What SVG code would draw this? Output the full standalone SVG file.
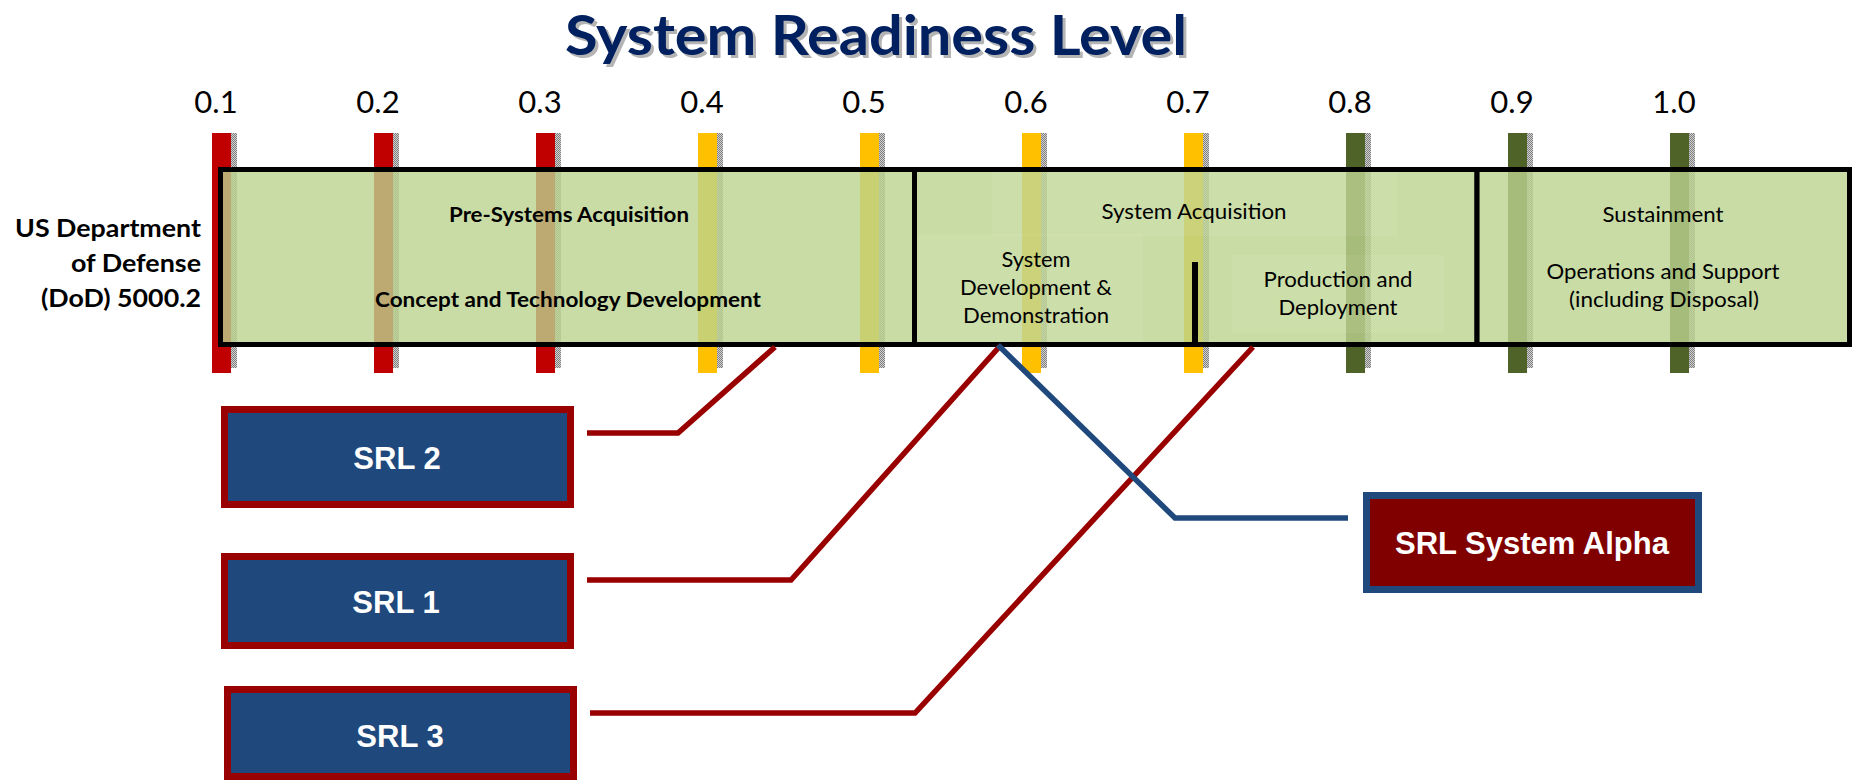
<svg xmlns="http://www.w3.org/2000/svg" width="1854" height="780" viewBox="0 0 1854 780">
<style>
text{font-family:Lato,"Liberation Sans",sans-serif;fill:#000}
.title{font-size:56px;font-weight:bold;text-anchor:middle}
.num{font-size:31px;text-anchor:middle}
.dod{font-size:24px;font-weight:bold;text-anchor:end}
.phb{font-size:20px;font-weight:bold;text-anchor:middle}
.ph{font-size:21px;text-anchor:middle}
.srl{font-family:"Liberation Sans",Arial,sans-serif;font-size:31px;font-weight:bold;fill:#fff;text-anchor:middle}
.red{fill:#c00000}.yel{fill:#ffc000}.olv{fill:#4f6228}
.sh{fill:url(#dots)}
.box{fill:#bcd38f;fill-opacity:0.8;stroke:none}
.edge{fill:none;stroke:#000;stroke-width:5}
.srlbox{fill:#1f497d;stroke:#990000;stroke-width:7}
.alpha{fill:#800000;stroke:#1f497d;stroke-width:7}
.cr{fill:none;stroke:#990000;stroke-width:5.5}
.cb{fill:none;stroke:#1f497d;stroke-width:5.5}
</style>
<defs>
<pattern id="dots" width="2" height="2" patternUnits="userSpaceOnUse">
<rect width="2" height="2" fill="#d0d0d0"/>
<rect width="1" height="1" fill="#808080"/>
<rect x="1" y="1" width="1" height="1" fill="#808080"/>
</pattern>
</defs>

<g id="title">
<text class="title" x="879" y="58" style="fill:#b4b4b4" textLength="622" lengthAdjust="spacingAndGlyphs">System Readiness Level</text>
<text class="title" x="876" y="55" style="fill:#002060" textLength="622" lengthAdjust="spacingAndGlyphs">System Readiness Level</text>
</g>

<g id="scale">
<text class="num" x="216" y="113">0.1</text>
<text class="num" x="378" y="113">0.2</text>
<text class="num" x="540" y="113">0.3</text>
<text class="num" x="702" y="113">0.4</text>
<text class="num" x="864" y="113">0.5</text>
<text class="num" x="1026" y="113">0.6</text>
<text class="num" x="1188" y="113">0.7</text>
<text class="num" x="1350" y="113">0.8</text>
<text class="num" x="1512" y="113">0.9</text>
<text class="num" x="1674" y="113">1.0</text>
</g>

<g id="bars">
<rect class="red" x="212" y="133" width="19" height="240"/><rect class="sh" x="231" y="133" width="6" height="235"/>
<rect class="red" x="374" y="133" width="19" height="240"/><rect class="sh" x="393" y="133" width="6" height="235"/>
<rect class="red" x="536" y="133" width="19" height="240"/><rect class="sh" x="555" y="133" width="6" height="235"/>
<rect class="yel" x="698" y="133" width="19" height="240"/><rect class="sh" x="717" y="133" width="6" height="235"/>
<rect class="yel" x="860" y="133" width="19" height="240"/><rect class="sh" x="879" y="133" width="6" height="235"/>
<rect class="yel" x="1022" y="133" width="19" height="240"/><rect class="sh" x="1041" y="133" width="6" height="235"/>
<rect class="yel" x="1184" y="133" width="19" height="240"/><rect class="sh" x="1203" y="133" width="6" height="235"/>
<rect class="olv" x="1346" y="133" width="19" height="240"/><rect class="sh" x="1365" y="133" width="6" height="235"/>
<rect class="olv" x="1508" y="133" width="19" height="240"/><rect class="sh" x="1527" y="133" width="6" height="235"/>
<rect class="olv" x="1670" y="133" width="19" height="240"/><rect class="sh" x="1689" y="133" width="6" height="235"/>
</g>

<g id="dod-label">
<text class="dod" x="201" y="237" textLength="186" lengthAdjust="spacingAndGlyphs">US Department</text>
<text class="dod" x="201" y="272" textLength="130" lengthAdjust="spacingAndGlyphs">of Defense</text>
<text class="dod" x="201" y="307" textLength="160" lengthAdjust="spacingAndGlyphs">(DoD) 5000.2</text>
</g>

<g id="pre-systems">
<rect class="box" x="220.5" y="169.5" width="694" height="175"/>
<rect class="edge" x="220.5" y="169.5" width="694" height="175"/>
<text class="phb" x="569" y="222" textLength="240" lengthAdjust="spacingAndGlyphs">Pre-Systems Acquisition</text>
<text class="phb" x="568" y="307" textLength="386" lengthAdjust="spacingAndGlyphs">Concept and Technology Development</text>
</g>

<g id="system-acquisition">
<rect class="box" x="914.5" y="169.5" width="562.5" height="175"/>
<rect x="992" y="172" width="405" height="64" fill="#ffffff" fill-opacity="0.06"/>
<rect x="917" y="234" width="226" height="108" fill="#ffffff" fill-opacity="0.06"/>
<rect x="1232" y="255" width="212" height="78" fill="#ffffff" fill-opacity="0.06"/>
<rect class="edge" x="914.5" y="169.5" width="562.5" height="175"/>
<line x1="1195" y1="262" x2="1195" y2="344" stroke="#000" stroke-width="6"/>
<text class="ph" x="1194" y="219" textLength="185" lengthAdjust="spacingAndGlyphs">System Acquisition</text>
<text class="ph" x="1036" y="267" textLength="69" lengthAdjust="spacingAndGlyphs">System</text>
<text class="ph" x="1036" y="295" textLength="152" lengthAdjust="spacingAndGlyphs">Development &amp;</text>
<text class="ph" x="1036" y="323" textLength="146" lengthAdjust="spacingAndGlyphs">Demonstration</text>
<text class="ph" x="1338" y="287" textLength="149" lengthAdjust="spacingAndGlyphs">Production and</text>
<text class="ph" x="1338" y="315" textLength="119" lengthAdjust="spacingAndGlyphs">Deployment</text>
</g>

<g id="sustainment">
<rect class="box" x="1477" y="169.5" width="372.5" height="175"/>
<rect class="edge" x="1477" y="169.5" width="372.5" height="175"/>
<text class="ph" x="1663" y="222" textLength="121" lengthAdjust="spacingAndGlyphs">Sustainment</text>
<text class="ph" x="1663" y="279" textLength="233" lengthAdjust="spacingAndGlyphs">Operations and Support</text>
<text class="ph" x="1664" y="307" textLength="190" lengthAdjust="spacingAndGlyphs">(including Disposal)</text>
</g>

<g id="connectors">
<polyline class="cr" points="587,433 678,433 775,347"/>
<polyline class="cr" points="587,580 791,580 1000,346"/>
<polyline class="cr" points="590,713 915,713 1253,347"/>
<polyline class="cb" points="998,345 1175,518 1348,518"/>
</g>

<g id="srl2">
<rect class="srlbox" x="224.5" y="409.5" width="346" height="95"/>
<text class="srl" x="397" y="469">SRL 2</text>
</g>
<g id="srl1">
<rect class="srlbox" x="224.5" y="556.5" width="346" height="89"/>
<text class="srl" x="396" y="613">SRL 1</text>
</g>
<g id="srl3">
<rect class="srlbox" x="227.5" y="689.5" width="346" height="87"/>
<text class="srl" x="400" y="747">SRL 3</text>
</g>
<g id="srl-alpha">
<rect class="alpha" x="1366.5" y="495.5" width="332" height="94"/>
<text class="srl" x="1532" y="554">SRL System Alpha</text>
</g>
</svg>
